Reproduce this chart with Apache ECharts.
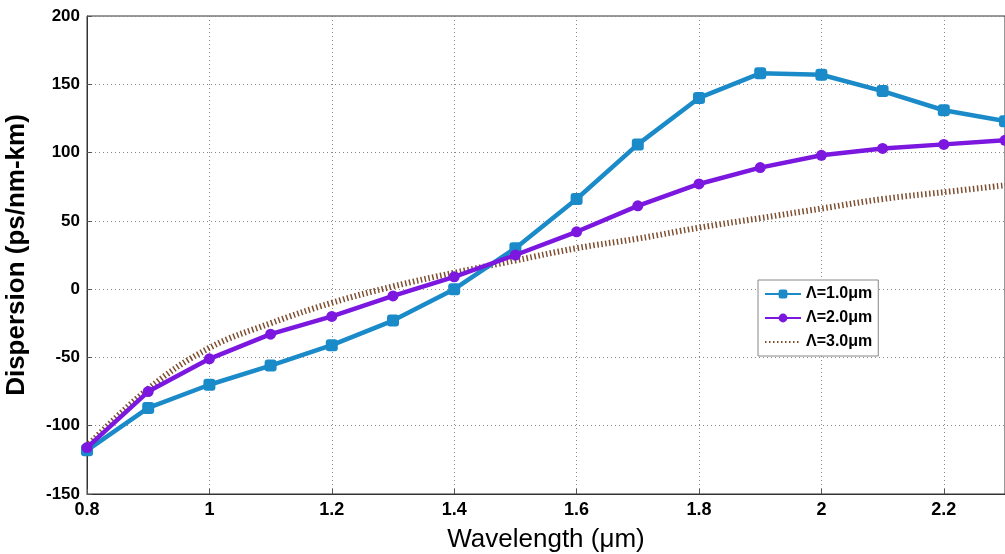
<!DOCTYPE html>
<html>
<head>
<meta charset="utf-8">
<script src="https://cdn.jsdelivr.net/npm/echarts@6/dist/echarts.min.js"></script>
<style>html,body{margin:0;padding:0;background:#fff;}#c{width:1005px;height:554px;}</style>
</head>
<body>
<div id="c"></div>
<script>
const wavelengths = [0.8,0.9,1.0,1.1,1.2,1.3,1.4,1.5,1.6,1.7,1.8,1.9,2.0,2.1,2.2,2.3];
const seriesNames = ['\u039B=1.0\u03BCm','\u039B=2.0\u03BCm','\u039B=3.0\u03BCm'];
const disp1 = [-118,-87,-70,-56,-41,-23,0,30,66,106,140,158,157,145,131,123];
const disp2 = [-116,-75,-51,-33,-20,-5,9,25,42,61,77,89,98,103,106,109];
const disp3 = [-115,-73,-43,-25,-10,2,12,21,30,37,45,52,59,66,71,76];

const pair = arr => wavelengths.map((w,i)=>[w,arr[i]]);
const chart = echarts.init(document.getElementById('c'));
const font = 'Arial, "Liberation Sans", sans-serif';
chart.setOption({
  animation:false,
  backgroundColor:'#fff',
  grid:{left:87,right:0,top:16,bottom:60,containLabel:false,outerBoundsMode:'none',
    show:true,borderColor:'#333',borderWidth:1,backgroundColor:'transparent'},
  xAxis:{type:'value',min:0.8,max:2.3,interval:0.2,
    name:'Wavelength (\u03BCm)',nameLocation:'middle',nameGap:33,
    nameTextStyle:{fontFamily:font,fontSize:26,color:'#000'},
    axisLine:{show:true,onZero:false,lineStyle:{color:'#333',width:1}},
    axisTick:{show:true,inside:true,length:5,lineStyle:{color:'#555'}},
    axisLabel:{showMaxLabel:false,fontFamily:font,fontWeight:'bold',fontSize:18,color:'#000',margin:7},
    splitLine:{show:true,lineStyle:{color:'#888',type:[1,3],width:1}}
  },
  yAxis:{type:'value',min:-150,max:200,interval:50,
    name:'Dispersion (ps/nm-km)',nameLocation:'middle',nameGap:57,
    nameTextStyle:{fontFamily:font,fontSize:26,fontWeight:'bold',color:'#000'},
    axisLine:{show:true,onZero:false,lineStyle:{color:'#333',width:1}},
    axisTick:{show:true,inside:true,length:5,lineStyle:{color:'#555'}},
    axisLabel:{fontFamily:font,fontWeight:'bold',fontSize:17,color:'#000',margin:7},
    splitLine:{show:true,lineStyle:{color:'#888',type:[1,3],width:1}}
  },
  legend:{left:758,top:280,orient:'vertical',
    backgroundColor:'#fff',borderColor:'#888',borderWidth:1,padding:[6,6,6,6],
    itemWidth:36,itemHeight:11,itemGap:8,
    textStyle:{fontFamily:font,fontWeight:'bold',fontSize:16,color:'#000'},
    data:[{name:seriesNames[0]},{name:seriesNames[1]},{name:seriesNames[2],itemStyle:{opacity:0}}]},
  series:[
    {name:seriesNames[0],type:'line',data:pair(disp1),symbol:'roundRect',symbolSize:12,
      itemStyle:{color:'#1a8bc8'},lineStyle:{color:'#1a8bc8',width:4.5},z:3},
    {name:seriesNames[1],type:'line',data:pair(disp2),symbol:'circle',symbolSize:11,
      itemStyle:{color:'#7b17de'},lineStyle:{color:'#7b17de',width:4.5},z:4},
    {name:seriesNames[2],type:'line',data:pair(disp3),symbol:'none',smooth:0.4,
      itemStyle:{color:'#7e4e30'},lineStyle:{color:'#7e4e30',width:6,type:[1.5,2.5],cap:'butt'},z:2}
  ]
});
</script>
</body>
</html>
